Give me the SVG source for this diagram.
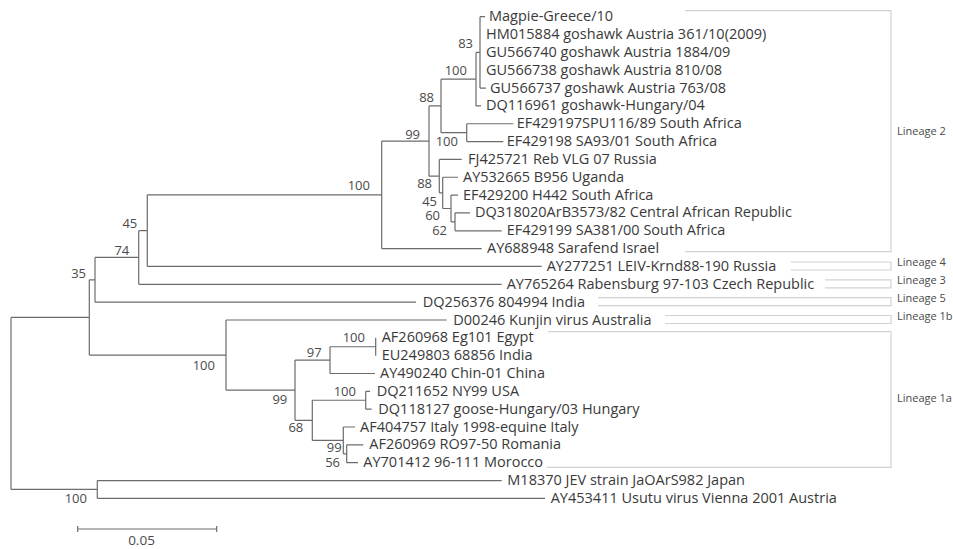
<svg xmlns="http://www.w3.org/2000/svg" width="953" height="549" viewBox="0 0 953 549">
<style>
.br{fill:none;stroke:#6c6c6c;stroke-width:1.2}
.bk{fill:none;stroke:#d2d2d2;stroke-width:1.2}
.lf{font-family:"Open Sans","DejaVu Sans",sans-serif;font-size:14.5px;fill:#3a3a3a}
.bs{font-family:"Open Sans","DejaVu Sans",sans-serif;font-size:13px;fill:#4a4a4a;text-anchor:end}
.ln{font-family:"Open Sans","DejaVu Sans",sans-serif;font-size:11px;fill:#4a4a4a}
.sc{font-family:"Open Sans","DejaVu Sans",sans-serif;font-size:13.5px;fill:#4a4a4a;text-anchor:middle}
</style>
<rect width="953" height="549" fill="#ffffff"/>
<g id="connectors">
<path class="br" d="M11 317.45V489.46M11 317.45H89.3M11 489.46H97.3
M89.3 279.8V355.1M89.3 279.8H95M89.3 355.1H226
M95 257.47V302.14M95 257.47H138.7M95 302.14H416
M138.7 230.63V284.3M138.7 230.63H147.3M138.7 284.3H501.7
M147.3 194.8V266.46M147.3 194.8H381.7M147.3 266.46H541.7
M381.7 141.03V248.62M381.7 141.03H429M381.7 248.62H481.7
M429 105.9V176.15M429 105.9H441M429 176.15H439.3
M441 79.15V132.66M441 79.15H476M441 132.66H466.7
M476 52.4V105.9M476 52.4H480M476 105.9H481
M480 16.7V88.06M480 16.7H485M480 88.06H486
M466.7 123.74V141.58M466.7 123.74H513.3M466.7 141.58H503.3
M439.3 159.42V192.87M439.3 159.42H461.7M439.3 192.87H442.7
M442.7 177.26V208.48M442.7 177.26H458M442.7 208.48H451
M451 195.1V221.86M451 195.1H458M451 221.86H455
M455 212.94V230.78M455 212.94H470M455 230.78H501.7
M226 319.98V390.22M226 319.98H446.7M226 390.22H295
M295 360.12V420.33M295 360.12H330M295 420.33H312.3
M330 346.74V373.5M330 346.74H375.7M330 373.5H375
M375.7 337.82V355.66
M312.3 400.26V440.4M312.3 400.26H365.7M312.3 440.4H343.3
M365.7 391.34V409.18M365.7 391.34H370M365.7 409.18H371.7
M343.3 427.02V453.78M343.3 427.02H355M343.3 453.78H346.7
M346.7 444.86V462.7M346.7 444.86H363.3M346.7 462.7H358
M97.3 480.54V498.38M97.3 480.54H501.7M97.3 498.38H545"/>
</g>
<g id="leaves" class="lf">
<text id="t1" x="489" y="21.2">Magpie-Greece/10</text>
<text id="t2" x="486" y="39">HM015884 goshawk Austria 361/10(2009)</text>
<text id="t3" x="486" y="56.9">GU566740 goshawk Austria 1884/09</text>
<text id="t4" x="486" y="74.7">GU566738 goshawk Austria 810/08</text>
<text id="t5" x="490" y="92.6">GU566737 goshawk Austria 763/08</text>
<text id="t6" x="486" y="110.4">DQ116961 goshawk-Hungary/04</text>
<text id="t7" x="516.7" y="128.2">EF429197SPU116/89 South Africa</text>
<text id="t8" x="506.7" y="146.1">EF429198 SA93/01 South Africa</text>
<text id="t9" x="468" y="163.9">FJ425721 Reb VLG 07 Russia</text>
<text id="t10" x="463" y="181.8">AY532665 B956 Uganda</text>
<text id="t11" x="463" y="199.6">EF429200 H442 South Africa</text>
<text id="t12" x="475" y="217.4">DQ318020ArB3573/82 Central African Republic</text>
<text id="t13" x="506.7" y="235.3">EF429199 SA381/00 South Africa</text>
<text id="t14" x="487" y="253.1">AY688948 Sarafend Israel</text>
<text id="t15" x="546.7" y="271">AY277251 LEIV-Krnd88-190 Russia</text>
<text id="t16" x="506.7" y="288.8">AY765264 Rabensburg 97-103 Czech Republic</text>
<text id="t17" x="422.7" y="306.6">DQ256376 804994 India</text>
<text id="t18" x="453.3" y="324.5">D00246 Kunjin virus Australia</text>
<text id="t19" x="381.7" y="342.3">AF260968 Eg101 Egypt</text>
<text id="t20" x="381.7" y="360.2">EU249803 68856 India</text>
<text id="t21" x="380" y="378">AY490240 Chin-01 China</text>
<text id="t22" x="376.7" y="395.8">DQ211652 NY99 USA</text>
<text id="t23" x="378.3" y="413.7">DQ118127 goose-Hungary/03 Hungary</text>
<text id="t24" x="360" y="431.5">AF404757 Italy 1998-equine Italy</text>
<text id="t25" x="369.3" y="449.4">AF260969 RO97-50 Romania</text>
<text id="t26" x="363.3" y="467.2">AY701412 96-111 Morocco</text>
<text id="t27" x="507.3" y="485">M18370 JEV strain JaOArS982 Japan</text>
<text id="t28" x="550.7" y="502.9">AY453411 Usutu virus Vienna 2001 Austria</text>
</g>
<g id="bootstrap" class="bs">
<text x="473" y="48">83</text>
<text x="467" y="75">100</text>
<text x="434" y="102">88</text>
<text x="420" y="139">99</text>
<text x="458" y="146">100</text>
<text x="432" y="188">88</text>
<text x="437" y="206">45</text>
<text x="440" y="220">60</text>
<text x="447" y="235">62</text>
<text x="370" y="190">100</text>
<text x="137.3" y="228">45</text>
<text x="129.3" y="255">74</text>
<text x="86" y="278">35</text>
<text x="215" y="370">100</text>
<text x="365" y="342">100</text>
<text x="321.7" y="357">97</text>
<text x="287.3" y="404">99</text>
<text x="356" y="396">100</text>
<text x="303.3" y="432">68</text>
<text x="341.7" y="452">99</text>
<text x="340" y="467">56</text>
<text x="87" y="503">100</text>
</g>
<g id="lineage2">
<path class="bk" d="M685 10.7H891V251.7H685"/>
<text class="ln" x="897" y="134.5">Lineage 2</text>
</g>
<g id="lineage4">
<path class="bk" d="M790.7 262H891V270H790.7"/>
<text class="ln" x="897" y="265.5">Lineage 4</text>
</g>
<g id="lineage3">
<path class="bk" d="M825 279.8H891V287.8H825"/>
<text class="ln" x="897" y="284">Lineage 3</text>
</g>
<g id="lineage5">
<path class="bk" d="M598 297.6H891V305.6H598"/>
<text class="ln" x="897" y="301.5">Lineage 5</text>
</g>
<g id="lineage1b">
<path class="bk" d="M665 315.5H891V323.5H665"/>
<text class="ln" x="897" y="320">Lineage 1b</text>
</g>
<g id="lineage1a">
<path class="bk" d="M548 331.7H891V467.3H546.7"/>
<text class="ln" x="897" y="401.5">Lineage 1a</text>
</g>
<g id="scale">
<path class="br" d="M77.7 529H216.7M77.7 526V532M216.7 526V532"/>
<text class="sc" x="141.5" y="545">0.05</text>
</g>
</svg>
